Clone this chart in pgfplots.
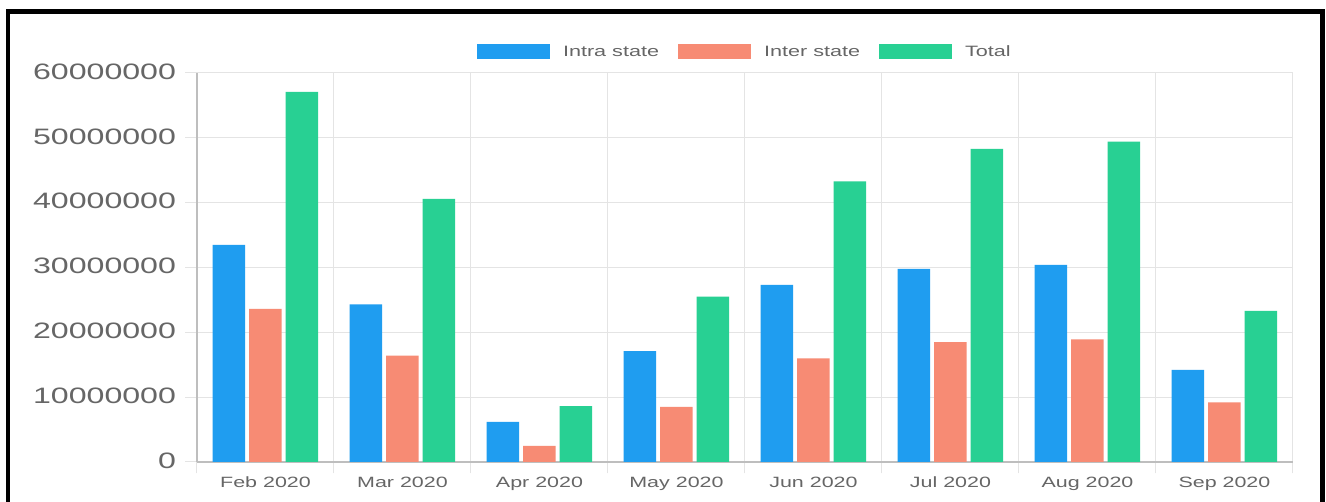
\documentclass[border=0pt]{standalone}
\usepackage{fontspec}
\setmainfont{Liberation Sans}[FakeStretch=1.44]
\usepackage{pgfplots}
\pgfplotsset{compat=1.18}
\definecolor{cIntra}{RGB}{31,157,240}
\definecolor{cInter}{RGB}{247,139,116}
\definecolor{cTotal}{RGB}{40,208,147}
\definecolor{gridgray}{RGB}{228,228,228}
\definecolor{axisgray}{RGB}{190,190,190}
\definecolor{txtgray}{RGB}{102,102,102}
\begin{document}
\begin{tikzpicture}
\useasboundingbox (0pt,0pt) rectangle (1326pt,502pt);
\fill[white] (0pt,0pt) rectangle (1326pt,502pt);
\begin{axis}[
  at={(197pt,40pt)}, anchor=south west,
  scale only axis, width=1096pt, height=389pt,
  xmin=-0.5, xmax=7.5, ymin=0, ymax=60000000,
  ybar=4pt, bar width=32.5pt,
  axis x line*=bottom, axis y line*=left,
  axis line style={draw=axisgray, line width=1.2pt, -},
  xtick={-0.5,0.5,1.5,2.5,3.5,4.5,5.5,6.5,7.5},
  x tick label as interval,
  xticklabels={Feb 2020,Mar 2020,Apr 2020,May 2020,Jun 2020,Jul 2020,Aug 2020,Sep 2020},
  ytick={0,10000000,20000000,30000000,40000000,50000000,60000000},
  yticklabels={0,10000000,20000000,30000000,40000000,50000000,60000000},
  scaled y ticks=false,
  xmajorgrids, ymajorgrids,
  grid style={draw=gridgray, line width=1pt},
  tick style={draw=gridgray, line width=1pt},
  tick align=outside, major tick length=11.5pt,
  xticklabel style={font=\fontsize{14.9}{17}\selectfont, text=txtgray},
  yticklabel style={font=\fontsize{22.3}{26}\selectfont, text=txtgray, xshift=-6pt, yshift=1.5pt},
  legend columns=3,
  legend style={at={(axis description cs:0.2555,1.054)}, anchor=west,
    draw=none, fill=none, inner sep=0pt, outer sep=0pt,
    nodes={inner sep=0pt, outer sep=0pt},
    column sep=13pt,
    font=\fontsize{15}{18}\selectfont, text=txtgray},
  legend image code/.code={\path[#1, draw=none] (0pt,-7.5pt) rectangle (73pt,7.5pt);},
]
\addplot[fill=cIntra, draw=none] coordinates {(0,33500000) (1,24300000) (2,6200000) (3,17100000) (4,27300000) (5,29800000) (6,30400000) (7,14200000)};
\addlegendentry{Intra state\hspace*{6pt}}
\addplot[fill=cInter, draw=none] coordinates {(0,23600000) (1,16400000) (2,2500000) (3,8500000) (4,16000000) (5,18500000) (6,18900000) (7,9200000)};
\addlegendentry{Inter state\hspace*{6pt}}
\addplot[fill=cTotal, draw=none] coordinates {(0,57100000) (1,40600000) (2,8600000) (3,25500000) (4,43300000) (5,48300000) (6,49400000) (7,23300000)};
\addlegendentry{Total}
\end{axis}
\draw[line width=4.5pt, black] (8pt,0pt) -- (8pt,490.5pt) -- (1322.5pt,490.5pt) -- (1322.5pt,0pt);
\end{tikzpicture}
\end{document}
